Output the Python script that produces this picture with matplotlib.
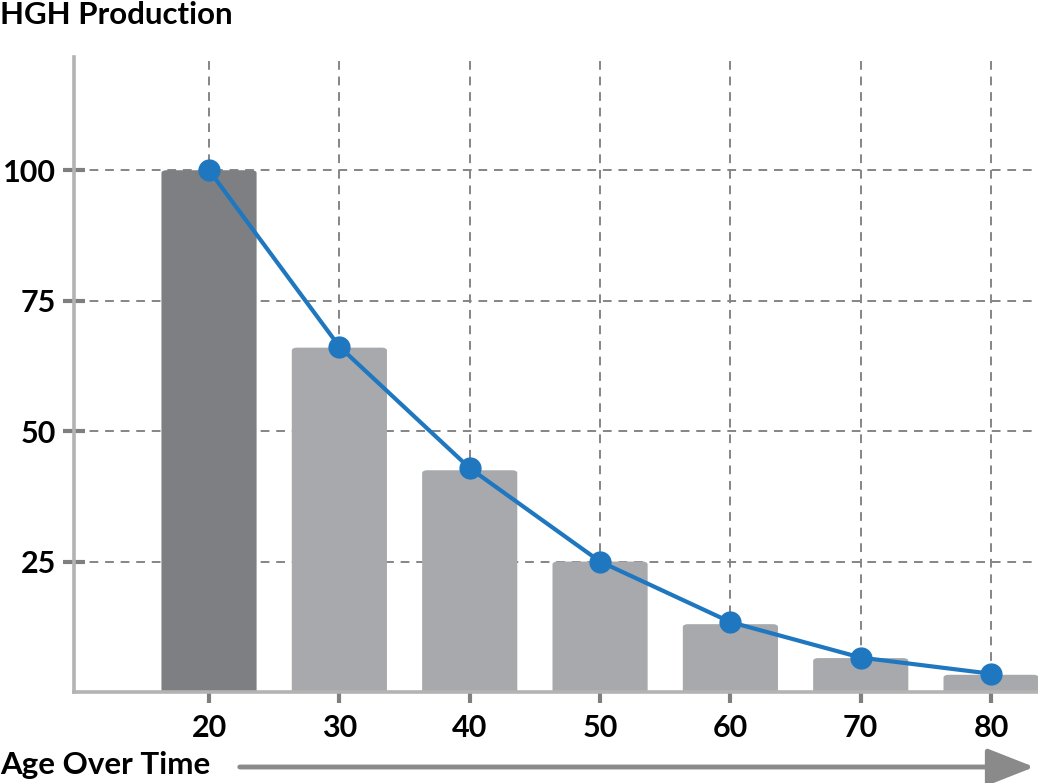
import matplotlib
matplotlib.use("Agg")
import matplotlib.pyplot as plt
from matplotlib.patches import FancyBboxPatch, FancyArrowPatch

plt.rcParams['font.family'] = ['Lato', 'DejaVu Sans']

# data
ages = [20, 30, 40, 50, 60, 70, 80]
bar_values = [100, 66, 42.5, 25, 13, 6.5, 3.3]
line_values = [100, 66.2, 42.9, 25, 13.4, 6.6, 3.5]
y_ticks = [25, 50, 75, 100]

dark_bar = "#7e7f83"
light_bar = "#a8a9ad"
blue = "#1f77c0"
grid_col = "#858585"
spine_col = "#b3b3b3"

fig = plt.figure(figsize=(10.38, 7.83), dpi=100)
ax = fig.add_axes([74/1038, 1-692/783, 1-74/1038, (692-57)/783])
ax.set_xlim(9.64, 83.6)
ax.set_ylim(0, 121.7)

# bars with slightly rounded tops
bw = 7.3
for i, (x, v) in enumerate(zip(ages, bar_values)):
    col = dark_bar if i == 0 else light_bar
    p = FancyBboxPatch((x - bw/2, -2), bw, v + 2,
                       boxstyle="round,pad=0,rounding_size=0.4",
                       mutation_aspect=1.4, fc=col, ec="none", zorder=2)
    ax.add_patch(p)

ax.plot(ages, line_values, color=blue, lw=3, marker="o", ms=15,
        zorder=4, clip_on=False)

# grid
ax.set_xticks(ages)
ax.set_yticks(y_ticks)
ax.grid(True, color=grid_col, ls=(0, (4.5, 3.5)), lw=1.4, zorder=0)
ax.set_axisbelow(True)

for s in ["top", "right"]:
    ax.spines[s].set_visible(False)
for s in ["left", "bottom"]:
    ax.spines[s].set_color(spine_col)
    ax.spines[s].set_linewidth(2.6)
    ax.spines[s].set_zorder(3)

ax.tick_params(axis="both", direction="inout", length=16, width=3,
               color="#7f7f7f", labelsize=22, pad=8)
ax.tick_params(axis="y", pad=5)
for lab in ax.get_xticklabels() + ax.get_yticklabels():
    lab.set_fontweight("bold")

fig.text(0.0, 1 - 15/783, "HGH Production", fontsize=22.5, fontweight="bold",
         va="center", ha="left")
fig.text(0.0, 1 - 765/783, "Age Over Time", fontsize=22.5, fontweight="bold",
         va="center", ha="left")

fig.patches.append(FancyArrowPatch(
    (237/1038, 1 - 767/783), (1037/1038, 1 - 767/783),
    transform=fig.transFigure, arrowstyle="-|>,head_length=1.45,head_width=0.57",
    mutation_scale=20, color="#8a8a8a", lw=3.5))

fig.savefig("out.png", dpi=100)
